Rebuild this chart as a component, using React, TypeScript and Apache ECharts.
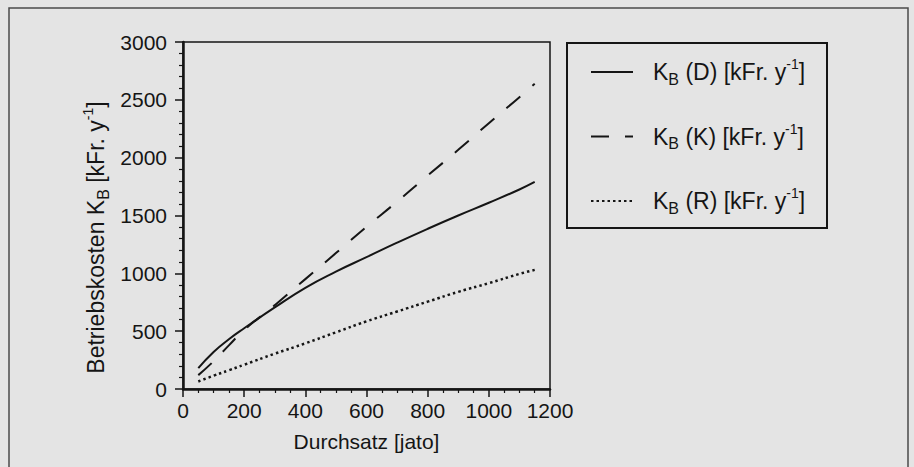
import React, { useEffect, useRef } from "react";
import * as echarts from "echarts";

const throughput = [50, 100, 150, 200, 300, 400, 500, 600, 700, 800, 900, 1000, 1100, 1150];
const costD = [180, 320, 430, 525, 705, 875, 1015, 1140, 1265, 1385, 1500, 1610, 1725, 1790];
const costK = [120, 240, 377, 510, 725, 950, 1175, 1402, 1620, 1845, 2068, 2298, 2523, 2640];
const costR = [65, 115, 162, 210, 305, 395, 490, 585, 670, 755, 840, 915, 995, 1030];
const seriesNames = ["D", "K", "R"];

const FONT = "'Liberation Sans', Arial, Helvetica, sans-serif";
const INK = "#151515";

const makeRich = (size: number) => ({
  n: { fontSize: size, fontFamily: FONT, color: INK, lineHeight: 30 },
  sub: { fontSize: Math.round(size * 0.7), fontFamily: FONT, color: INK, lineHeight: 18, verticalAlign: "bottom" as const },
  sup: { fontSize: Math.round(size * 0.62), fontFamily: FONT, color: INK, lineHeight: 18, verticalAlign: "top" as const },
});

const pairs = (ys: number[]) => throughput.map((x, i) => [x, ys[i]]);

export default function App() {
  const ref = useRef<HTMLDivElement>(null);
  useEffect(() => {
    if (!ref.current) return;
    const chart = echarts.init(ref.current, undefined, { renderer: "svg" });
    const lineBase = { type: "line", showSymbol: false, symbol: "none", smooth: true, silent: true };
    chart.setOption({
      animation: false,
      backgroundColor: "#e4e4e4",
      textStyle: { fontFamily: FONT, color: INK },
      grid: {
        left: 183,
        right: 364,
        top: 42,
        bottom: 78,
        show: true,
        borderColor: INK,
        borderWidth: 1.5,
        backgroundColor: "transparent",
      },
      xAxis: {
        type: "value",
        min: 0,
        max: 1200,
        interval: 200,
        name: "Durchsatz [jato]",
        nameLocation: "middle",
        nameGap: 42,
        nameTextStyle: { fontSize: 21, fontFamily: FONT, color: INK },
        axisLine: { show: true, onZero: false, lineStyle: { color: INK, width: 2.5 } },
        axisTick: { show: true, length: 8, lineStyle: { color: INK, width: 1.5 } },
        minorTick: { show: true, splitNumber: 4, length: 4, lineStyle: { color: INK, width: 1.2 } },
        splitLine: { show: false },
        axisLabel: { fontSize: 21, fontFamily: FONT, color: INK, margin: 11, formatter: (v: number) => String(v) },
      },
      yAxis: {
        type: "value",
        min: 0,
        max: 3000,
        interval: 500,
        name: "{n|Betriebskosten K}{sub|B}{n| [kFr. y}{sup|-1}{n|]}",
        nameLocation: "middle",
        nameRotate: 90,
        nameGap: 72,
        nameTextStyle: { fontSize: 23, fontFamily: FONT, color: INK, rich: makeRich(23), padding: [0, 44, 0, 0] },
        axisLine: { show: true, onZero: false, lineStyle: { color: INK, width: 2.5 } },
        axisTick: { show: true, length: 8, lineStyle: { color: INK, width: 1.5 } },
        minorTick: { show: true, splitNumber: 5, length: 4, lineStyle: { color: INK, width: 1.2 } },
        splitLine: { show: false },
        axisLabel: { fontSize: 21, fontFamily: FONT, color: INK, margin: 16, formatter: (v: number) => String(v) },
      },
      legend: {
        orient: "vertical",
        left: 585,
        top: 52,
        itemWidth: 42,
        itemHeight: 30,
        itemGap: 34.5,
        selectedMode: false,
        data: seriesNames,
        itemStyle: { opacity: 0 },
        formatter: (name: string) => `{n|K}{sub|B}{n| (${name}) [kFr. y}{sup|-1}{n|]}`,
        textStyle: { fontSize: 23, fontFamily: FONT, color: INK, rich: makeRich(23), padding: [0, 0, 0, 15] },
      },
      graphic: [
        {
          type: "rect",
          shape: { x: 9, y: 8, width: 899, height: 480 },
          style: { fill: "none", stroke: "#4a4a4a", lineWidth: 1.5 },
          silent: true,
        },
        {
          type: "rect",
          shape: { x: 567, y: 43, width: 260, height: 185 },
          style: { fill: "none", stroke: INK, lineWidth: 2 },
          silent: true,
        },
      ],
      series: [
        {
          ...lineBase,
          name: "D",
          data: pairs(costD),
          lineStyle: { color: INK, width: 2, type: "solid" },
          itemStyle: { color: INK },
        },
        {
          ...lineBase,
          name: "K",
          data: pairs(costK),
          lineStyle: { color: INK, width: 2, type: [18, 16] },
          itemStyle: { color: INK },
        },
        {
          ...lineBase,
          name: "R",
          data: pairs(costR),
          lineStyle: { color: INK, width: 2.5, type: [2.5, 3] },
          itemStyle: { color: INK },
        },
      ],
    });
    return () => chart.dispose();
  }, []);
  return (
    <div
      ref={ref}
      style={{ position: "fixed", left: 0, top: 0, width: 914, height: 467 }}
    />
  );
}
